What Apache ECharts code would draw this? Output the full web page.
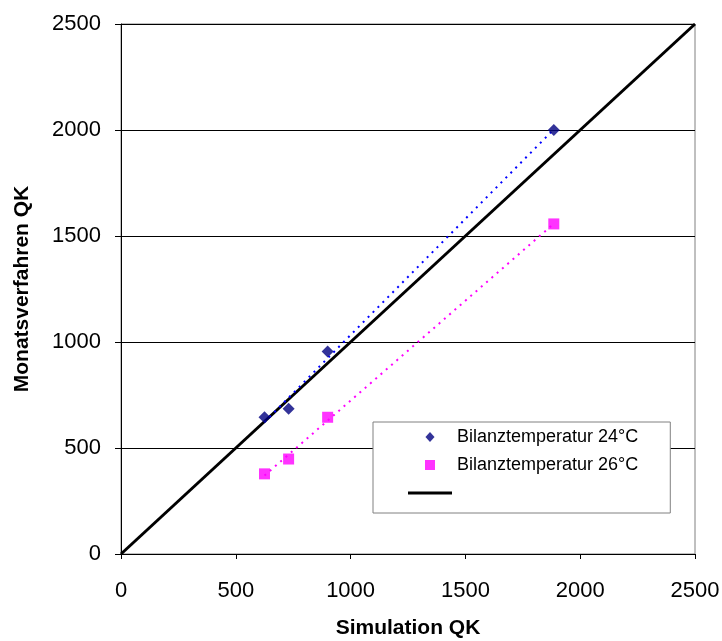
<!DOCTYPE html>
<html>
<head>
<meta charset="utf-8">
<script src="https://cdn.jsdelivr.net/npm/echarts@6/dist/echarts.min.js"></script>
<style>
  html, body { margin: 0; padding: 0; background: #fff; }
  #chart { width: 722px; height: 641px; }
</style>
</head>
<body>
<div id="chart"></div>
<script>
// simulation values (x) shared by both series
const simX = [625, 730, 900, 1885]
// Monatsverfahren values
const temp24 = [645, 685, 955, 2000]
const temp26 = [378, 448, 645, 1557]
// trend line end points
const trend24 = [[625, 622], [1885, 2003]]
const trend26 = [[625, 370], [1885, 1558]]
// 1:1 reference line
const diagonal = [[0, 0], [2500, 2500]]

const names = ['Bilanztemperatur 24°C', 'Bilanztemperatur 26°C', ' ']

const pairs = (xs, ys) => xs.map((x, i) => [x, ys[i]])

const myChart = echarts.init(document.getElementById('chart'))

const font = 'Arial, "Liberation Sans", sans-serif'

const option = {
  animation: false,
  grid: {
    left: 121,
    right: 27,
    top: 24,
    bottom: 87,
    outerBoundsMode: 'none',
    show: true,
    borderColor: '#808080',
    borderWidth: 1,
  },
  legend: {
    data: [
      { name: names[0], icon: 'path://M5,0L10,5.5L5,11L0,5.5Z' },
      { name: names[1], icon: 'path://M0,0H10V10H0Z' },
      { name: names[2], icon: 'path://M0,0H44V3H0Z' },
    ],
    orient: 'vertical',
    left: 373,
    top: 422,
    padding: [6, 32, 11, 35],
    itemWidth: 44,
    itemHeight: 10,
    itemGap: 10,
    symbolKeepAspect: true,
    backgroundColor: '#fff',
    borderColor: '#808080',
    borderWidth: 1,
    textStyle: { fontFamily: font, fontSize: 18, color: '#000' },
  },
  xAxis: {
    type: 'value',
    min: 0,
    max: 2500,
    interval: 500,
    name: 'Simulation QK',
    nameLocation: 'middle',
    nameGap: 64,
    nameTextStyle: { fontFamily: font, fontSize: 21, fontWeight: 'bold', color: '#000' },
    axisLine: { show: true, lineStyle: { color: '#000', width: 1 } },
    axisTick: { show: true, length: 5, lineStyle: { color: '#000' } },
    axisLabel: {
      fontFamily: font,
      fontSize: 22,
      color: '#000',
      margin: 26,
      formatter: (v) => String(v),
    },
    splitLine: { show: false },
  },
  yAxis: {
    type: 'value',
    min: 0,
    max: 2500,
    interval: 500,
    name: 'Monatsverfahren QK',
    nameLocation: 'middle',
    nameGap: 88,
    nameTextStyle: { fontFamily: font, fontSize: 21, fontWeight: 'bold', color: '#000' },
    axisLine: { show: true, lineStyle: { color: '#000', width: 1 } },
    axisTick: { show: true, length: 6, lineStyle: { color: '#000' } },
    axisLabel: {
      fontFamily: font,
      fontSize: 22,
      color: '#000',
      margin: 20,
      formatter: (v) => String(v),
    },
    splitLine: { show: true, lineStyle: { color: '#000', width: 1 } },
  },
  series: [
    {
      name: names[0],
      type: 'scatter',
      data: pairs(simX, temp24),
      symbol: 'diamond',
      symbolSize: 12,
      itemStyle: { color: '#000080' },
      z: 5,
    },
    {
      name: names[1],
      type: 'scatter',
      data: pairs(simX, temp26),
      symbol: 'rect',
      symbolSize: 11,
      itemStyle: { color: '#FF00FF' },
      z: 5,
    },
    {
      name: names[2],
      type: 'line',
      data: diagonal,
      symbol: 'none',
      lineStyle: { color: '#000', width: 3 },
      itemStyle: { color: '#000' },
      z: 3,
    },
    {
      type: 'line',
      data: trend24,
      symbol: 'none',
      lineStyle: { color: '#0000FF', width: 2, type: [2, 5] },
      z: 4,
    },
    {
      type: 'line',
      data: trend26,
      symbol: 'none',
      lineStyle: { color: '#FF00FF', width: 2, type: [2, 5] },
      z: 4,
    },
  ],
}

myChart.setOption(option)
</script>
</body>
</html>
